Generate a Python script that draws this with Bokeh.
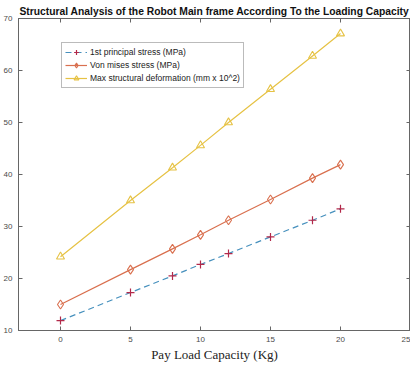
from bokeh.plotting import figure
from bokeh.models import Range1d, LinearAxis, FixedTicker, Legend, LegendItem, Title
from bokeh.embed import file_html
from bokeh.resources import INLINE

payload = [0, 5, 8, 10, 12, 15, 18, 20]
principal_stress = [11.9, 17.3, 20.5, 22.7, 24.8, 28.0, 31.2, 33.4]
von_mises_stress = [15.0, 21.7, 25.7, 28.4, 31.2, 35.2, 39.3, 41.9]
max_deformation = [24.2, 35.0, 41.3, 45.6, 50.0, 56.4, 62.8, 67.1]

x_ticks = [0, 5, 10, 15, 20, 25]
y_ticks = [10, 20, 30, 40, 50, 60, 70]

title_text = "Structural Analysis of the Robot Main frame According To the Loading Capacity"
x_label = "Pay Load Capacity (Kg)"
labels = ["1st principal stress (MPa)", "Von mises stress (MPa)",
          "Max structural deformation (mm x 10^2)"]

c_blue = "#4690bd"
c_plus = "#b2294a"
c_red = "#d9704f"
c_yel = "#e6c244"
axis_col = "#666666"
tick_col = "#4a4a4a"

p = figure(width=410, height=364, output_backend="svg", toolbar_location=None,
           x_range=Range1d(-3, 25), y_range=Range1d(10, 70),
           min_border_left=18, min_border_right=0, min_border_top=18, min_border_bottom=0)
p.title = Title(text=title_text, align="center", text_font="Liberation Sans",
                text_font_size="10.3px", text_font_style="bold", text_color="#111111",
                standoff=3, offset=0)
p.grid.visible = False
p.outline_line_color = axis_col
p.background_fill_color = "white"
p.border_fill_color = "white"

for ax in [p.xaxis[0], p.yaxis[0]]:
    ax.major_tick_in = 4
    ax.major_tick_out = 0
    ax.minor_tick_in = 0
    ax.minor_tick_out = 0
    ax.axis_line_color = axis_col
    ax.major_tick_line_color = axis_col
    ax.major_label_text_font = "Liberation Sans"
    ax.major_label_text_font_size = "8px"
    ax.major_label_text_color = tick_col
p.xaxis[0].ticker = FixedTicker(ticks=x_ticks)
p.yaxis[0].ticker = FixedTicker(ticks=y_ticks)
p.xaxis[0].major_label_standoff = 6
p.yaxis[0].major_label_standoff = 6
p.xaxis[0].axis_label = x_label
p.xaxis[0].axis_label_text_font = "Liberation Serif"
p.xaxis[0].axis_label_text_font_size = "13px"
p.xaxis[0].axis_label_text_font_style = "normal"
p.xaxis[0].axis_label_text_color = "#222222"
p.xaxis[0].axis_label_standoff = 2

for loc, tk in [("above", x_ticks), ("right", y_ticks)]:
    ax = LinearAxis(ticker=FixedTicker(ticks=tk), major_tick_in=4, major_tick_out=0,
                    minor_tick_in=0, minor_tick_out=0, axis_line_color=axis_col,
                    major_tick_line_color=axis_col,
                    major_label_overrides={t: "" for t in tk},
                    major_label_standoff=0)
    p.add_layout(ax, loc)

l1 = p.line(payload, principal_stress, line_color=c_blue, line_width=1.2, line_dash="6 4")
m1 = p.scatter(payload, principal_stress, marker="cross", size=8, line_color=c_plus, line_width=1.2)
l2 = p.line(payload, von_mises_stress, line_color=c_red, line_width=1.2)
m2 = p.scatter(payload, von_mises_stress, marker="diamond", size=9, line_color=c_red,
               fill_color=None, line_width=1.1)
l3 = p.line(payload, max_deformation, line_color=c_yel, line_width=1.2)
m3 = p.scatter(payload, max_deformation, marker="triangle", size=8, line_color=c_yel,
               fill_color=None, line_width=1.1)

legend = Legend(items=[LegendItem(label=labels[0], renderers=[l1, m1]),
                       LegendItem(label=labels[1], renderers=[l2, m2]),
                       LegendItem(label=labels[2], renderers=[l3, m3])],
                location=(43, 242), label_text_font="Liberation Sans",
                label_text_font_size="8.5px", label_text_color="#222222",
                label_height=12, glyph_height=12, glyph_width=22, label_standoff=3,
                spacing=1, padding=3, margin=0, border_line_color="#777777",
                background_fill_alpha=1)
p.add_layout(legend, "center")

open("out.html", "w").write(file_html(p, INLINE))
